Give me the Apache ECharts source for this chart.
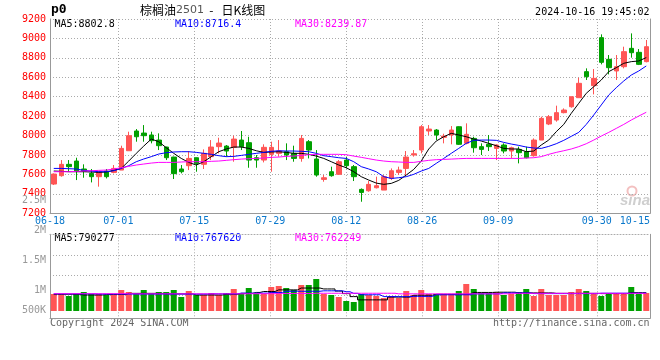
<!DOCTYPE html>
<html><head><meta charset="utf-8">
<script src="https://cdn.jsdelivr.net/npm/echarts@6.0.0/dist/echarts.min.js"></script>
<style>html,body{margin:0;padding:0;background:#fff}#c{width:660px;height:360px}</style>
</head><body><div id="c"></div>
<script>
const dates = ['06-18','06-19','06-20','06-21','06-24','06-25','06-26','06-27','06-28',
'07-01','07-02','07-03','07-04','07-05','07-08','07-09','07-10','07-11','07-12',
'07-15','07-16','07-17','07-18','07-19','07-22','07-23','07-24','07-25','07-26',
'07-29','07-30','07-31',
'08-01','08-02','08-05','08-06','08-07','08-08','08-09',
'08-12','08-13','08-14','08-15','08-16','08-19','08-20','08-21','08-22','08-23',
'08-26','08-27','08-28','08-29','08-30',
'09-02','09-03','09-04','09-05','09-06','09-09','09-10','09-11','09-12','09-13',
'09-18','09-19','09-20','09-23','09-24','09-25','09-26','09-27','09-30',
'10-08','10-09','10-10','10-11','10-14','10-15','10-16'];
const tickDates = ['06-18','07-01','07-15','07-29','08-12','08-26','09-09','09-30','10-15'];
const gridDates = ['07-01','07-15','07-29','08-12','08-26','09-09','09-30'];

const open = [7501,7587,7704,7738,7656,7611,7577,7635,7621,7645, 7844,8047,8026,8006,7954,7882,7779,7656,7690,7772, 7704,7783,7886,7892,7879,7954,7927,7772,7748,7807, 7817,7834,7817,7765,7937,7759,7549,7628,7601,7748, 7680,7446,7432,7463,7439,7559,7621,7662,7800,7851, 8047,8057,7982,8006,8091,7920,7971,7886,7910,7868, 7903,7841,7858,7834,7793,7954,8119,8160,8236,8297, 8390,8658,8514,9008,8785,8665,8709,8898,8857,8761];
const close = [7604,7704,7680,7635,7635,7577,7628,7577,7662,7868, 7999,7988,7999,7947,7896,7772,7608,7628,7765,7714, 7817,7882,7923,7841,7964,7886,7748,7748,7879,7879, 7841,7800,7765,7971,7851,7594,7566,7587,7731,7690, 7577,7415,7498,7484,7577,7638,7645,7779,7813,8091, 8067,8006,7995,8057,7910,8013,7875,7858,7886,7903, 7841,7875,7824,7772,7954,8177,8194,8236,8263,8400, 8538,8606,8589,8754,8699,8709,8864,8853,8733,8915];
const low = [7491,7577,7628,7542,7566,7518,7474,7559,7611,7645, 7844,7937,7937,7920,7851,7748,7553,7611,7645,7628, 7656,7748,7817,7783,7731,7851,7669,7669,7724,7628, 7783,7748,7731,7731,7765,7577,7525,7577,7601,7662, 7532,7319,7422,7456,7439,7542,7594,7594,7783,7817, 8006,7954,7920,7910,7903,7910,7824,7800,7841,7748, 7817,7765,7714,7765,7783,7954,8108,8143,8229,8287, 8390,8572,8424,8733,8630,8572,8692,8802,8726,8754];
const high = [7610,7748,7748,7772,7704,7656,7630,7656,7697,7896, 8040,8067,8108,8040,8023,7885,7782,7697,7841,7775, 7858,7954,7978,7903,7999,8047,7988,7800,7910,7937, 7954,7920,7896,8006,7954,7851,7594,7680,7748,7783, 7697,7456,7532,7577,7594,7662,7680,7841,7851,8108, 8108,8067,8019,8098,8095,8126,7988,7920,8006,7910, 7920,7886,7886,7886,7971,8194,8211,8308,8280,8400, 8596,8692,8685,9042,8829,8829,8915,9052,8891,8984];

const ma5 = [7635,7632,7628,7628,7628,7625,7621,7625,7642,7662, 7738,7817,7892,7964,7937,7875,7817,7765,7724,7697, 7731,7783,7834,7862,7882,7882,7868,7844,7827,7831, 7834,7827,7817,7817,7807,7789,7765,7731,7697,7669, 7628,7577,7542,7511,7498,7508,7539,7594,7652,7738, 7862,7944,7988,8023,8006,7988,7964,7944,7920,7896, 7868,7862,7862,7834,7841,7903,7954,8040,8115,8229, 8332,8435,8503,8572,8658,8699,8744,8761,8768,8802.8];
const ma10 = [7662,7662,7659,7656,7642,7635,7628,7628,7638,7662, 7690,7731,7759,7783,7810,7824,7831,7834,7834,7827, 7817,7807,7793,7783,7786,7796,7807,7817,7827,7838, 7844,7841,7841,7838,7834,7817,7793,7783,7772,7765, 7731,7680,7656,7628,7577,7559,7566,7577,7601,7635, 7662,7714,7765,7817,7868,7920,7951,7954,7954,7951, 7930,7913,7899,7882,7872,7868,7889,7916,7951,7992, 8033,8115,8212,8315,8418,8493,8562,8623,8665,8716.4];
const ma30 = [7628,7628,7628,7632,7635,7638,7642,7645,7656,7669, 7683,7697,7707,7717,7724,7724,7724,7728,7731,7731, 7731,7735,7738,7745,7752,7758,7762,7765,7769,7776, 7779,7786,7789,7796,7803,7807,7807,7807,7807,7803, 7789,7776,7762,7748,7738,7731,7728,7724,7724,7735, 7745,7752,7755,7758,7762,7765,7765,7765,7765,7765, 7765,7765,7765,7769,7772,7783,7807,7827,7844,7862, 7886,7916,7954,7995,8033,8074,8115,8160,8201,8239.87];

// volume in thousands (K)
const volume = [733,733,647,733,819,733,733,690,690,905, 819,733,905,733,819,819,905,603,862,690, 690,776,690,776,948,733,991,761,733,1034, 1078,991,905,1121,1121,1379,733,690,603,431, 388,733,690,647,560,647,560,862,690,905, 733,733,733,733,862,1164,948,776,776,819, 690,733,819,948,647,948,690,690,690,819, 948,862,733,647,733,776,776,1034,733,776];
const volMa5 = [720,720,720,720,690,690,690,710,710,710, 760,760,760,760,760,740,740,740,740,690, 690,690,690,720,720,760,760,800,840,840, 910,910,910,990,990,990,950,950,860,750, 620,480,480,480,480,600,600,600,680,680, 680,720,720,720,720,720,800,800,800,810, 810,810,780,780,780,780,780,760,760,760, 760,760,760,750,750,750,750,790,790,790.277];
const volMa10 = [740,740,740,740,740,740,730,730,730,730, 730,730,730,730,730,730,730,730,730,730, 730,740,740,740,740,770,770,770,770,800, 800,850,850,850,850,850,870,870,870,830, 760,700,700,700,620,620,620,620,630,630, 630,700,700,700,700,700,740,740,740,740, 780,780,780,780,750,750,750,750,750,750, 750,750,750,767,767,767,767,767,767,767.62];
const volMa30 = [745,745,745,745,745,745,745,745,745,745, 745,740,740,740,740,740,740,740,740,740, 740,740,740,740,740,740,745,745,745,745, 755,755,755,755,755,765,765,765,765,765, 765,765,765,765,765,765,740,740,740,740, 740,740,740,740,740,740,740,740,740,740, 740,762,762,762,762,762,762,762,762,762, 762,762,762,762,762,762,762,762,762,762.249];

const priceMaText = ['MA5:8802.8','MA10:8716.4','MA30:8239.87'];
const volMaText = ['MA5:790277','MA10:767620','MA30:762249'];
const titleName = '棕榈油', titleCode = '2501', titleTail = '  -   日K线图';
const stamp = '2024-10-16 19:45:02';

const RED = '#ff5555', GREEN = '#00a000';
const MONO = '"DejaVu Sans Mono", monospace';
const GRIDC = '#aaaaaa', FRAMEC = '#999999';
const dotted = {color: GRIDC, type: [1, 2], width: 1};

const chart = echarts.init(document.getElementById('c'));
const hiddenAxis = {axisLine:{show:false}, axisTick:{show:false}, axisLabel:{show:false}, splitLine:{show:false}};

chart.setOption({
  animation: false,
  grid: [
    {left: 50, top: 19, width: 600, height: 194.3},
    {left: 50, top: 234.3, width: 600, height: 84},
    {left: 50, top: 234.3, width: 600, height: 76.7},
    {left: 50, top: 255.7, width: 600, height: 39.3},
    {left: 50, top: 170.7, width: 600, height: 150}
  ],
  xAxis: [
    {type:'category', gridIndex:0, data:dates, boundaryGap:true, position:'bottom',
     axisLine:{onZero:false, lineStyle:{color:FRAMEC}}, axisTick:{show:false}, axisLabel:{show:false}, splitLine:{show:false}},
    {type:'category', gridIndex:0, data:dates, boundaryGap:false, position:'bottom',
     axisLine:{show:false, onZero:false}, axisTick:{show:false},
     axisLabel:{interval:(i,v)=>tickDates.includes(v), color:'#0a78cc', fontFamily:MONO, fontSize:10, margin:3,
       formatter:(v)=> v==='10-15' ? '{s|'+v+'}' : v,
       rich:{s:{padding:[0,15,0,0], color:'#0a78cc', fontFamily:MONO, fontSize:10}}},
     splitLine:{show:true, interval:(i,v)=>gridDates.includes(v), lineStyle:dotted}},
    {type:'category', gridIndex:1, data:dates, boundaryGap:false, position:'bottom',
     axisLine:{onZero:false, lineStyle:{color:FRAMEC}}, axisTick:{show:false}, axisLabel:{show:false},
     splitLine:{show:true, interval:(i,v)=>gridDates.includes(v), lineStyle:dotted}},
    {type:'category', gridIndex:1, data:dates, position:'top',
     axisLine:{show:true, onZero:false, lineStyle:dotted}, axisTick:{show:false}, axisLabel:{show:false}, splitLine:{show:false}},
    Object.assign({type:'category', gridIndex:2, data:dates, boundaryGap:true}, hiddenAxis),
    Object.assign({type:'category', gridIndex:3, data:dates}, hiddenAxis),
    Object.assign({type:'category', gridIndex:4, data:dates}, hiddenAxis)
  ],
  yAxis: [
    {type:'value', gridIndex:0, min:7200, max:9200, interval:200, position:'left',
     axisLine:{show:true, onZero:false, lineStyle:{color:FRAMEC}}, axisTick:{show:false},
     axisLabel:{color:'#ff0000', fontFamily:MONO, fontSize:10, margin:4, padding:[0,0,5,0], formatter:(v)=>String(v)},
     splitLine:{show:true, showMinLine:false, lineStyle:dotted}},
    {type:'value', gridIndex:0, min:0, max:1, position:'right',
     axisLine:{show:true, onZero:false, lineStyle:{color:FRAMEC}}, axisTick:{show:false}, axisLabel:{show:false}, splitLine:{show:false}},
    {type:'value', gridIndex:1, min:0, max:1, position:'left',
     axisLine:{show:true, onZero:false, lineStyle:{color:FRAMEC}}, axisTick:{show:false}, axisLabel:{show:false}, splitLine:{show:false}},
    {type:'value', gridIndex:1, min:0, max:1, position:'right',
     axisLine:{show:true, onZero:false, lineStyle:{color:FRAMEC}}, axisTick:{show:false}, axisLabel:{show:false}, splitLine:{show:false}},
    Object.assign({type:'value', gridIndex:2, min:0, max:3306}, hiddenAxis),
    {type:'value', gridIndex:3, min:0, max:2, interval:1,
     axisLine:{show:false}, axisTick:{show:false}, axisLabel:{show:false}, splitLine:{show:true, lineStyle:dotted}},
    {type:'value', gridIndex:4, min:500, max:3000, interval:500, position:'left',
     axisLine:{show:false}, axisTick:{show:false}, splitLine:{show:false},
     axisLabel:{color:'#999999', fontFamily:MONO, fontSize:10, margin:4,
       formatter:(v)=> v>=3000 ? '' : (v<1000 ? '{l|'+v+'K}' : (v/1000)+'M'),
       rich:{l:{padding:[0,0,20,0], color:'#999999', fontFamily:MONO, fontSize:10}}}}
  ],
  series: [
    {type:'candlestick', xAxisIndex:0, yAxisIndex:0, barWidth:5,
     data: dates.map((d,i)=>[open[i], close[i], low[i], high[i]]),
     itemStyle:{color:RED, color0:GREEN, borderColor:RED, borderColor0:GREEN, borderWidth:1}},
    {type:'line', xAxisIndex:0, yAxisIndex:0, data:ma5, showSymbol:false, lineStyle:{color:'#000000', width:1}, itemStyle:{color:'#000'}},
    {type:'line', xAxisIndex:0, yAxisIndex:0, data:ma10, showSymbol:false, lineStyle:{color:'#0000ff', width:1}, itemStyle:{color:'#00f'}},
    {type:'line', xAxisIndex:0, yAxisIndex:0, data:ma30, showSymbol:false, lineStyle:{color:'#ff00ff', width:1}, itemStyle:{color:'#f0f'}},
    {type:'bar', xAxisIndex:4, yAxisIndex:4, barWidth:6,
     data: volume.map((v,i)=>({value:v, itemStyle:{color: close[i]>=open[i] ? RED : GREEN}}))},
    {type:'line', xAxisIndex:4, yAxisIndex:4, data:volMa5, step:'middle', showSymbol:false, lineStyle:{color:'#000000', width:1}},
    {type:'line', xAxisIndex:4, yAxisIndex:4, data:volMa10, step:'middle', showSymbol:false, lineStyle:{color:'#0000ff', width:1}},
    {type:'line', xAxisIndex:4, yAxisIndex:4, data:volMa30, step:'middle', showSymbol:false, lineStyle:{color:'#ff00ff', width:1}}
  ],
  graphic: [
    {type:'text', x:51, y:10, style:{text:'p0', font:'bold 13px "DejaVu Sans Mono"', fill:'#000', verticalAlign:'middle'}},
    {type:'text', x:140, y:10, style:{text:'{a|'+titleName+'}{b|'+titleCode+'}{a|'+titleTail+'}', verticalAlign:'middle',
      rich:{a:{fontSize:12, fontFamily:'"Noto Sans CJK SC"', fill:'#000'}, b:{fontSize:11, fontFamily:'"DejaVu Sans"', fill:'#555'}}}},
    {type:'text', x:649.5, y:12.3, style:{text:stamp, font:'10px "DejaVu Sans Mono"', fill:'#000', align:'right', verticalAlign:'middle'}},
    {type:'text', x:54.5, y:24, style:{text:priceMaText[0], font:'10px "DejaVu Sans Mono"', fill:'#000', verticalAlign:'middle'}},
    {type:'text', x:175, y:24, style:{text:priceMaText[1], font:'10px "DejaVu Sans Mono"', fill:'#0000ff', verticalAlign:'middle'}},
    {type:'text', x:295, y:24, style:{text:priceMaText[2], font:'10px "DejaVu Sans Mono"', fill:'#ff00ff', verticalAlign:'middle'}},
    {type:'text', x:54.5, y:238.5, style:{text:volMaText[0], font:'10px "DejaVu Sans Mono"', fill:'#000', verticalAlign:'middle'}},
    {type:'text', x:175, y:238.5, style:{text:volMaText[1], font:'10px "DejaVu Sans Mono"', fill:'#0000ff', verticalAlign:'middle'}},
    {type:'text', x:295, y:238.5, style:{text:volMaText[2], font:'10px "DejaVu Sans Mono"', fill:'#ff00ff', verticalAlign:'middle'}},
    {type:'text', x:50, y:323.5, style:{text:'Copyright 2024 SINA.COM', font:'10px "DejaVu Sans Mono"', fill:'#666', verticalAlign:'middle'}},
    {type:'text', x:649.5, y:323.5, style:{text:'http://finance.sina.com.cn', font:'10px "DejaVu Sans Mono"', fill:'#666', align:'right', verticalAlign:'middle'}},
    {type:'circle', shape:{cx:632, cy:191, r:4.5}, style:{fill:'none', stroke:'#f3c0c0', lineWidth:2}},
    {type:'text', x:635, y:201, style:{text:'sina', font:'italic bold 15px "Liberation Sans"', fill:'#cfcfcf', align:'center', verticalAlign:'middle'}}
  ]
});
</script></body></html>
